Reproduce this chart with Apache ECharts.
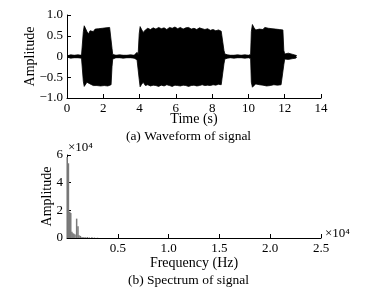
<!DOCTYPE html>
<html>
<head>
<meta charset="utf-8">
<script src="https://cdn.jsdelivr.net/npm/echarts@6/dist/echarts.min.js"></script>
<style>
  html, body { margin: 0; padding: 0; background: #fff; }
  #chart { width: 377px; height: 292px; }
</style>
</head>
<body>
<div id="chart"></div>
<script>
// waveform envelope (time in s, amplitude)
var waveTime = [0.05, 0.2, 0.4, 0.6, 0.8, 0.87,
  0.9, 0.95, 1.02, 1.1, 1.18, 1.27, 1.36, 1.45, 1.55, 1.65, 1.75, 1.85, 1.95, 2.05, 2.15, 2.25, 2.35, 2.43, 2.48, 2.52,
  2.7, 2.9, 3.1, 3.3, 3.5, 3.7, 3.86, 3.92,
  3.98, 4.03, 4.1, 4.2, 4.32, 4.45, 4.6, 4.75, 4.9, 5.05, 5.2, 5.35, 5.5, 5.65, 5.8, 5.95, 6.1, 6.25, 6.4, 6.55, 6.7, 6.85,
  7.0, 7.15, 7.3, 7.45, 7.6, 7.75, 7.9, 8.05, 8.2, 8.35, 8.5, 8.6, 8.65, 8.7,
  8.85, 9.0, 9.2, 9.4, 9.6, 9.8, 10.0, 10.12,
  10.16, 10.22, 10.3, 10.4, 10.5, 10.6, 10.7, 10.8, 10.9, 11.0, 11.1, 11.2, 11.3, 11.4, 11.5, 11.6, 11.7, 11.8, 11.9, 11.95, 12.0,
  12.1, 12.2, 12.3, 12.45, 12.6, 12.66];
var waveUpper = [0.02, 0.04, 0.03, 0.04, 0.03, 0.05,
  0.6, 0.74, 0.7, 0.6, 0.54, 0.62, 0.65, 0.6, 0.66, 0.63, 0.67, 0.64, 0.68, 0.66, 0.69, 0.67, 0.7, 0.66, 0.2, 0.05,
  0.03, 0.04, 0.03, 0.03, 0.04, 0.03, 0.1, 0.04,
  0.55, 0.72, 0.66, 0.58, 0.64, 0.68, 0.65, 0.69, 0.66, 0.7, 0.67, 0.69, 0.65, 0.7, 0.68, 0.71, 0.67, 0.7, 0.66, 0.69, 0.7, 0.66,
  0.68, 0.65, 0.69, 0.67, 0.65, 0.67, 0.63, 0.65, 0.62, 0.64, 0.61, 0.63, 0.15, 0.06,
  0.04, 0.03, 0.03, 0.04, 0.03, 0.04, 0.03, 0.05,
  0.6, 0.77, 0.7, 0.64, 0.6, 0.66, 0.68, 0.65, 0.7, 0.71, 0.68, 0.7, 0.67, 0.69, 0.66, 0.68, 0.65, 0.67, 0.64, 0.15, 0.06,
  0.05, 0.08, 0.04, 0.05, 0.03, 0.02];
var waveLower = [-0.02, -0.04, -0.03, -0.03, -0.04, -0.05,
  -0.6, -0.72, -0.71, -0.62, -0.6, -0.66, -0.69, -0.7, -0.68, -0.7, -0.69, -0.71, -0.68, -0.7, -0.69, -0.71, -0.7, -0.68, -0.25, -0.06,
  -0.03, -0.03, -0.04, -0.03, -0.03, -0.04, -0.08, -0.05,
  -0.55, -0.73, -0.68, -0.62, -0.7, -0.68, -0.71, -0.69, -0.7, -0.72, -0.69, -0.71, -0.68, -0.7, -0.72, -0.69, -0.7, -0.71, -0.69, -0.7, -0.72, -0.7,
  -0.69, -0.71, -0.7, -0.68, -0.7, -0.69, -0.7, -0.68, -0.69, -0.67, -0.68, -0.66, -0.18, -0.06,
  -0.04, -0.03, -0.04, -0.03, -0.03, -0.04, -0.03, -0.05,
  -0.62, -0.74, -0.7, -0.66, -0.63, -0.68, -0.7, -0.69, -0.7, -0.71, -0.69, -0.7, -0.71, -0.68, -0.7, -0.69, -0.7, -0.68, -0.66, -0.2, -0.06,
  -0.04, -0.07, -0.04, -0.05, -0.04, -0.02];

// spectrum (Hz, amplitude)
var specFreq = [20, 140, 270, 370, 480, 580, 680, 790, 950, 1080, 1180, 1320, 1480, 1650, 1800, 2000, 2200, 2450, 2700, 3000];
var specAmp = [58500, 54000, 19000, 18000, 4500, 3500, 3000, 2500, 14000, 8500, 2000, 1500, 800, 600, 500, 700, 400, 600, 300, 200];

var timeTicks = [0, 14, 2];
var ampTicks = [-1, 1, 0.5];
var freqTicks = [0, 25000, 5000];
var specTicks = [0, 60000, 20000];

var FONT = 'Liberation Serif';
var txt = { color: '#000', fontFamily: FONT, fontSize: 13 };
var nameTxt = { color: '#000', fontFamily: FONT, fontSize: 14 };

function minus(s) { return s.replace('-', '\u2212'); }

function axisBase(extra) {
  return Object.assign({
    type: 'value',
    nameMoveOverlap: false,
    axisLine: { show: true, onZero: false, lineStyle: { color: '#000', width: 1 } },
    axisTick: { show: true, inside: true, length: 4, lineStyle: { color: '#000' } },
    splitLine: { show: false },
    axisLabel: Object.assign({ margin: 4 }, txt),
    nameTextStyle: nameTxt
  }, extra);
}

var upperData = waveTime.map(function (t, i) { return [t, waveUpper[i]]; });
var lowerData = waveTime.map(function (t, i) { return [t, waveLower[i]]; });
var specData = specFreq.map(function (f, i) { return [f, specAmp[i]]; });

var chart = echarts.init(document.getElementById('chart'), null, { renderer: 'canvas' });
chart.setOption({
  backgroundColor: '#fff',
  animation: false,
  grid: [
    { left: 67, top: 15, width: 254, height: 83 },
    { left: 67, top: 155, width: 254, height: 83 }
  ],
  xAxis: [
    axisBase({
      gridIndex: 0, min: timeTicks[0], max: timeTicks[1], interval: timeTicks[2],
      name: 'Time (s)', nameLocation: 'middle', nameGap: 14
    }),
    axisBase({
      gridIndex: 1, min: freqTicks[0], max: freqTicks[1], interval: freqTicks[2],
      name: 'Frequency (Hz)', nameLocation: 'middle', nameGap: 18,
      axisLabel: Object.assign({ margin: 4, formatter: function (v) { return v === 0 ? '' : (v / 1e4).toFixed(1); } }, txt)
    })
  ],
  yAxis: [
    axisBase({
      gridIndex: 0, min: ampTicks[0], max: ampTicks[1], interval: ampTicks[2],
      name: 'Amplitude', nameLocation: 'middle', nameGap: 30, nameRotate: 90,
      axisLabel: Object.assign({ margin: 4, formatter: function (v) { return v === 0 ? '0' : minus(v.toFixed(1)); } }, txt)
    }),
    axisBase({
      gridIndex: 1, min: specTicks[0], max: specTicks[1], interval: specTicks[2],
      name: 'Amplitude', nameLocation: 'middle', nameGap: 13, nameRotate: 90,
      axisLabel: Object.assign({ margin: 4, formatter: function (v) { return String(v / 1e4); } }, txt)
    })
  ],
  series: [
    {
      type: 'line', xAxisIndex: 0, yAxisIndex: 0, data: upperData,
      symbol: 'none', lineStyle: { color: '#000', width: 0.8 },
      areaStyle: { color: '#000', opacity: 1, origin: -0.03 }
    },
    {
      type: 'line', xAxisIndex: 0, yAxisIndex: 0, data: lowerData,
      symbol: 'none', lineStyle: { color: '#000', width: 0.8 },
      areaStyle: { color: '#000', opacity: 1, origin: 0.03 }
    },
    {
      type: 'bar', xAxisIndex: 1, yAxisIndex: 1, data: specData,
      barWidth: 1.5, itemStyle: { color: '#7a7a7a' }
    }
  ],
  graphic: [
    { type: 'text', left: 'center', top: 129, style: { text: '(a) Waveform of signal', fill: '#000', font: '13.5px "Liberation Serif"' } },
    { type: 'text', left: 'center', top: 273, style: { text: '(b) Spectrum of signal', fill: '#000', font: '13.5px "Liberation Serif"' } },
    { type: 'text', left: 68, top: 141, style: { text: '\u00d710\u2074', fill: '#000', font: '13px "Liberation Serif"' } },
    { type: 'text', left: 325, top: 227, style: { text: '\u00d710\u2074', fill: '#000', font: '13px "Liberation Serif"' } }
  ]
});
</script>
</body>
</html>
